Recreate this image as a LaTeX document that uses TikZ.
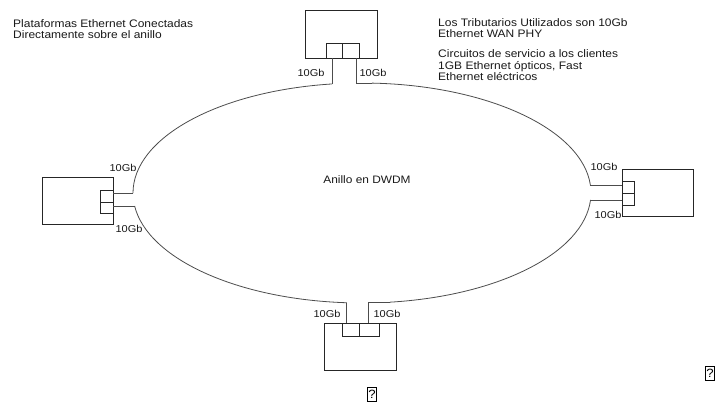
\documentclass[tikz,border=0pt]{standalone}
\usepackage{fontspec}
\setmainfont{Liberation Sans}[FakeStretch=1.1]
\usetikzlibrary{calc}
\begin{document}
\begin{tikzpicture}[x=1pt,y=-1pt,
  box/.style={draw=black!85, line width=0.8pt, minimum width=#1, inner sep=0pt},
  link/.style={draw=black!70, line width=0.8pt},
  lbl/.style={font=\fontsize{10}{11}\selectfont, inner sep=0pt, text=black!90},
  txt/.style={font=\fontsize{10.9}{11}\selectfont, inner sep=0pt, anchor=base west, text=black!90},
  qbox/.style={draw=black, line width=0.9pt, inner sep=0pt, minimum width=9pt, minimum height=14pt, font=\fontsize{12}{12}\selectfont}]
\useasboundingbox (0,0) rectangle (715,406);
% boxes (outer)
\node[box=72pt, minimum height=48pt] (T) at (341,34) {};
\node[box=71pt, minimum height=47pt] (L) at (77.5,200.5) {};
\node[box=71pt, minimum height=47pt] (R) at (657.5,192.5) {};
\node[box=72pt, minimum height=47pt] (B) at (360,346.5) {};
% ports
\node[box=15.5pt, minimum height=15pt] (pT1) at (334.5,50.5) {};
\node[box=17pt, minimum height=15pt] (pT2) at (350.8,50.5) {};
\node[box=13pt, minimum height=12pt] (pL1) at (106.5,196) {};
\node[box=13pt, minimum height=11pt] (pL2) at (106.5,207.5) {};
\node[box=12pt, minimum height=12pt] (pR1) at (628,187) {};
\node[box=12pt, minimum height=12pt] (pR2) at (628,199) {};
\node[box=17pt, minimum height=13pt] (pB1) at (350.5,329.5) {};
\node[box=20pt, minimum height=13pt] (pB2) at (369,329.5) {};
% ring
\coordinate (C) at (362,193);
\coordinate (eT2) at ($(C)+(87.5:229 and -110)$);
\coordinate (eT1) at ($(C)+(97.5:229 and -110)$);
\coordinate (eL1) at ($(C)+(180:229 and -110)$);
\coordinate (eL2) at ($(C)+(186.8:229 and -110)$);
\coordinate (eB1) at ($(C)+(266.2:229 and -110)$);
\coordinate (eB2) at ($(C)+(277:229 and -110)$);
\coordinate (eR2) at ($(C)+(356.4:229 and -110)$);
\coordinate (eR1) at ($(C)+(4:229 and -110)$);
\draw[link] (eR1) arc[start angle=-4, end angle=-87.5, x radius=229, y radius=110];
\draw[link] (eT1) arc[start angle=-97.5, end angle=-180, x radius=229, y radius=110];
\draw[link] (eL2) arc[start angle=-186.8, end angle=-266.2, x radius=229, y radius=110];
\draw[link] (eB2) arc[start angle=-277, end angle=-356.4, x radius=229, y radius=110];
% connectors
\draw[link] (eT1 |- pT1.south) -- (eT1);
\draw[link] ([xshift=6pt]pT2.south) |- (eT2);
\draw[link] (eL1 -| pL1.east) -- (eL1);
\draw[link] (eL2 -| pL2.east) -- (eL2);
\draw[link] (eR1 -| pR1.west) -- (eR1);
\draw[link] (eR2 -| pR2.west) -- (eR2);
\draw[link] (eB1 |- pB1.north) -- (eB1);
\draw[link] ([xshift=-1pt]pB2.north) |- (eB2);
% labels
\node[lbl] (l1) at (311,73) {10Gb};
\node[lbl] (l2) at (373,73) {10Gb};
\node[lbl] (l3) at (123,168) {10Gb};
\node[lbl] (l4) at (129,229) {10Gb};
\node[lbl] (l5) at (604,167) {10Gb};
\node[lbl] (l6) at (608,215) {10Gb};
\node[lbl] (l7) at (327,314) {10Gb};
\node[lbl] (l8) at (387,314) {10Gb};
\node[lbl, font=\fontsize{10.8}{11}\selectfont] (ring) at (367,180) {Anillo en DWDM};
% texts
\node[txt] (tl1) at (13,28) {Plataformas Ethernet Conectadas};
\node[txt] (tl2) at (13,39) {Directamente sobre el anillo};
\node[txt] (tr1) at (438,27) {Los Tributarios Utilizados son 10Gb};
\node[txt] (tr2) at (438,38) {Ethernet WAN PHY};
\node[txt] (tr3) at (438,58) {Circuitos de servicio a los clientes};
\node[txt] (tr4) at (438,69.5) {1GB Ethernet ópticos, Fast};
\node[txt] (tr5) at (438,81) {Ethernet eléctricos};
% placeholder glyphs
\node[qbox] (q1) at (372,394.5) {?};
\node[qbox] (q2) at (710,373) {?};
\end{tikzpicture}
\end{document}
